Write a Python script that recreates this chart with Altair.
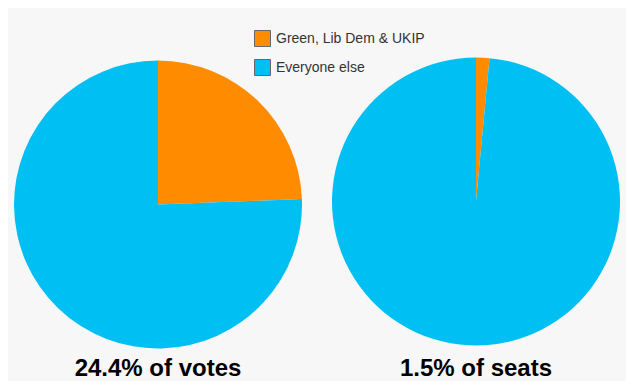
import altair as alt
import pandas as pd

groups = ["Green, Lib Dem & UKIP", "Everyone else"]
colors = ["#ff8c00", "#00bff3"]
votes_share = [24.4, 75.6]
seats_share = [1.5, 98.5]
titles = ["24.4% of votes", "1.5% of seats"]

FONT = "Liberation Sans, Arial, sans-serif"

def make_df(values):
    return pd.DataFrame({"group": groups, "share": values, "order": [0, 1]})

color_scale = alt.Scale(domain=groups, range=colors)

legend = alt.Legend(
    title=None, orient="none", legendX=246, legendY=-29,
    symbolType="square", symbolSize=256, symbolStrokeColor="#666666",
    symbolStrokeWidth=1, symbolOpacity=1, labelFont=FONT, labelFontSize=14,
    labelColor="#333333", rowPadding=8, padding=0, labelOffset=5,
)

def pie(values, title, h, offset):
    return alt.Chart(make_df(values)).mark_arc(radius=144, strokeWidth=0).encode(
        theta=alt.Theta("share:Q", stack=True),
        order=alt.Order("order:Q"),
        color=alt.Color("group:N", scale=color_scale, legend=legend),
    ).properties(
        width=300, height=h,
        title=alt.TitleParams(title, orient="bottom", fontSize=24, fontWeight="bold",
                              font=FONT, color="#000000", offset=offset, frame="group"),
    )

left = pie(votes_share, titles[0], 291, 7)
right = pie(seats_share, titles[1], 285, 11)

chart = alt.hconcat(left, right, spacing=18).properties(
    background="#f7f7f7",
    padding={"left": 0, "top": 22, "right": 0, "bottom": 0},
).configure_view(stroke=None)

chart.save("out.html", embed_options={"renderer": "svg", "actions": False})
